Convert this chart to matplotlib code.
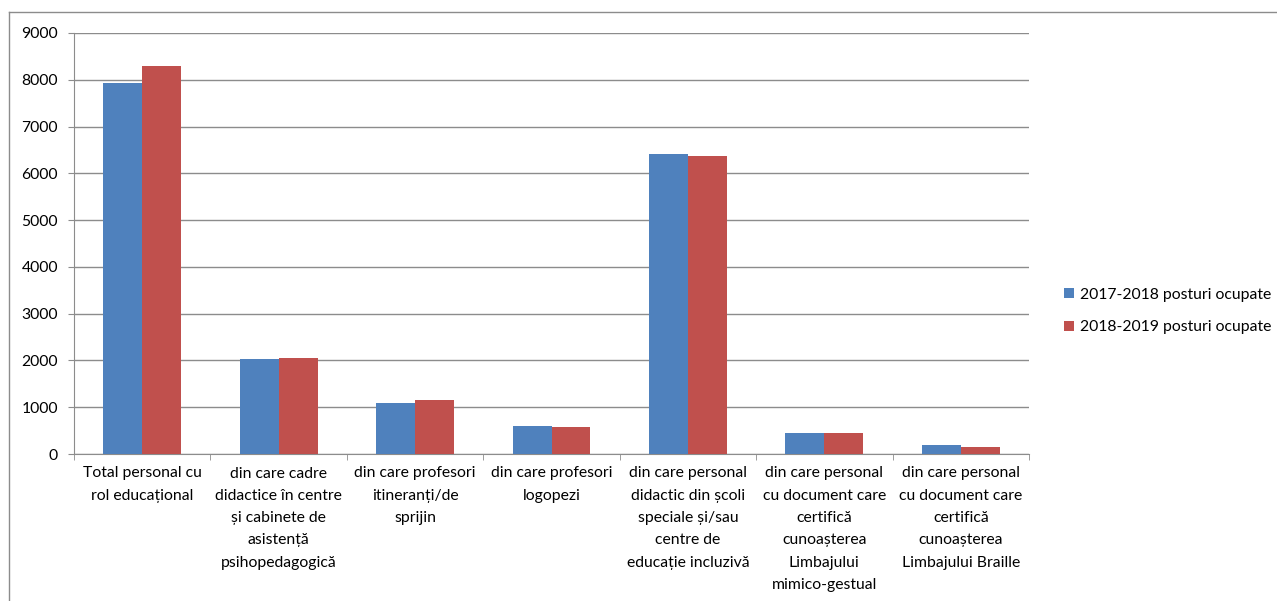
import numpy as np
import matplotlib.pyplot as plt
from matplotlib.lines import Line2D

# Personal didactic - posturi ocupate pe categorii
categorii = [
    "Total personal cu\nrol educațional",
    "din care cadre\ndidactice în centre\nși cabinete de\nasistență\npsihopedagogică",
    "din care profesori\nitineranți/de\nsprijin",
    "din care profesori\nlogopezi",
    "din care personal\ndidactic din școli\nspeciale și/sau\ncentre de\neducație incluzivă",
    "din care personal\ncu document care\ncertifică\ncunoașterea\nLimbajului\nmimico-gestual",
    "din care personal\ncu document care\ncertifică\ncunoașterea\nLimbajului Braille",
]
an_2017 = [7940, 2030, 1080, 590, 6415, 450, 185]
an_2018 = [8290, 2050, 1150, 570, 6380, 450, 150]
serii = ["2017-2018 posturi ocupate", "2018-2019 posturi ocupate"]
yticks = np.arange(0, 9001, 1000)

plt.rcParams['font.family'] = ['Lato', 'DejaVu Sans']
plt.rcParams['font.size'] = 11.3

W, H = 1277, 601
fig = plt.figure(figsize=(W / 100, H / 100), dpi=100)
ax = fig.add_axes([74 / W, (H - 454) / H, (1029 - 74) / W, (454 - 33) / H])

x = np.arange(len(categorii))
w = 1 / 3.5
ax.bar(x - w / 2, an_2017, w, color='#4F81BD', label=serii[0], zorder=3)
ax.bar(x + w / 2, an_2018, w, color='#C0504D', label=serii[1], zorder=3)

ax.set_xlim(-0.5, len(categorii) - 0.5)
ax.set_ylim(0, 9000)
ax.set_yticks(yticks)
ax.set_yticklabels([str(v) for v in yticks])
ax.yaxis.grid(True, color='#8c8c8c', lw=1.0, zorder=0)

ax.set_xticks(x)
ax.set_xticklabels(categorii, linespacing=1.75, va='top')
ax.set_xticks(np.arange(-0.5, len(categorii)), minor=True)
ax.tick_params(axis='x', which='major', length=0, pad=9)
ax.tick_params(axis='x', which='minor', length=4, color='#8c8c8c', direction='out')
ax.tick_params(axis='y', length=4.5, color='#8c8c8c', pad=7)

for s in ['top', 'right']:
    ax.spines[s].set_visible(False)
for s in ['left', 'bottom']:
    ax.spines[s].set_color('#8c8c8c')

fig.legend(loc='center left', bbox_to_anchor=(1050 / W, 1 - 311 / H),
           frameon=False, handlelength=0.6, handleheight=0.6,
           handletextpad=0.4, labelspacing=1.2)

# chenarul graficului
fig.add_artist(Line2D([9 / W, 9 / W], [0, 1 - 12 / H], color='#8c8c8c', lw=1))
fig.add_artist(Line2D([9 / W, 1], [1 - 12 / H, 1 - 12 / H], color='#8c8c8c', lw=1))

fig.savefig('out.png', dpi=100)
